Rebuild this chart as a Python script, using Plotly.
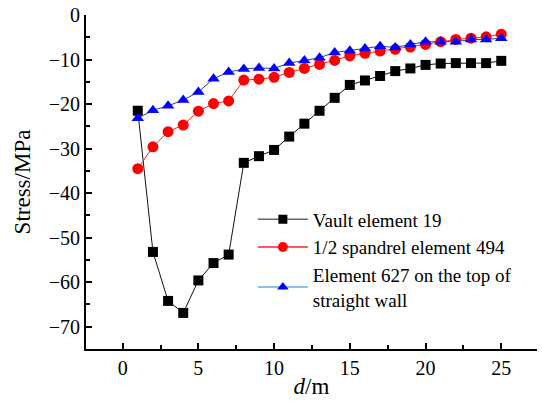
import plotly.graph_objects as go

# Distance along the arch (m)
distance = list(range(1, 26))

# Stress (MPa) at three monitored elements
vault_19 = [-21.5, -53.2, -64.2, -66.9, -59.6, -55.7, -53.8, -33.2, -31.7, -30.3,
            -27.3, -24.4, -21.5, -18.6, -15.7, -14.7, -13.7, -12.6, -12.0, -11.2,
            -10.9, -10.8, -10.8, -10.8, -10.3]
spandrel_494 = [-34.5, -29.6, -26.2, -24.7, -21.6, -19.9, -19.3, -14.6, -14.4, -14.0,
                -12.9, -12.0, -11.1, -10.2, -9.2, -8.6, -8.1, -7.7, -7.2, -6.6,
                -6.0, -5.5, -5.2, -4.9, -4.3]
wall_627 = [-23.2, -21.4, -20.4, -19.1, -17.3, -14.3, -12.8, -12.1, -11.9, -12.0,
            -10.8, -10.2, -9.6, -8.4, -8.0, -7.5, -7.0, -7.3, -6.6, -6.0,
            -6.0, -6.0, -5.5, -5.5, -5.2]

series_names = ["Vault element 19",
                "1/2 spandrel element 494",
                "Element 627 on the top of<br>straight wall"]

FONT = "Liberation Serif, Times New Roman, serif"

fig = go.Figure()

styles = [
    dict(y=vault_19, line="#111111", leg_line="#666666", marker="#000000",
         symbol="square", size=10),
    dict(y=spandrel_494, line="#ff2020", leg_line="#ff2020", marker="#ff0000",
         symbol="circle", size=11),
    dict(y=wall_627, line="#2a3f8f", leg_line="#6fa8dc", marker="#0000ff",
         symbol="triangle-up", size=11),
]

# Data curves
for name, st in zip(series_names, styles):
    fig.add_trace(go.Scatter(
        x=distance, y=st["y"], mode="lines+markers", name=name, showlegend=False,
        line=dict(color=st["line"], width=1),
        marker=dict(symbol=st["symbol"], size=st["size"], color=st["marker"],
                    line=dict(width=0)),
    ))

# Legend entries
for name, st in zip(series_names, styles):
    fig.add_trace(go.Scatter(
        x=[None], y=[None], mode="lines+markers", name=name,
        line=dict(color=st["leg_line"], width=1.5),
        marker=dict(symbol=st["symbol"], size=st["size"] - 1, color=st["marker"],
                    line=dict(width=0)),
    ))

axis_common = dict(
    showline=True, linecolor="black", linewidth=2, mirror=False,
    ticks="inside", ticklen=6, tickwidth=2, tickcolor="black",
    showgrid=False, zeroline=False,
    tickfont=dict(family=FONT, size=20, color="black"),
)

fig.update_xaxes(
    range=[-2.42, 27.36], tickvals=[0, 5, 10, 15, 20, 25],
    minor=dict(tickvals=[2.5, 7.5, 12.5, 17.5, 22.5, 27.5], ticks="inside",
               ticklen=4, tickwidth=2, tickcolor="black"),
    title=dict(text="<i>d</i>/m", font=dict(family=FONT, size=23, color="black"),
               standoff=0),
    **axis_common,
)
fig.update_yaxes(
    range=[-75, 0], tickvals=[0, -10, -20, -30, -40, -50, -60, -70],
    minor=dict(tickvals=[-5, -15, -25, -35, -45, -55, -65, -75], ticks="inside",
               ticklen=4, tickwidth=2, tickcolor="black"),
    title=dict(text="Stress/MPa", font=dict(family=FONT, size=23, color="black"),
               standoff=12),
    **axis_common,
)

fig.update_layout(
    width=542, height=402,
    margin=dict(l=86, r=5, t=15, b=53),
    plot_bgcolor="white", paper_bgcolor="white",
    font=dict(family=FONT, color="black"),
    legend=dict(
        x=0.37, y=0.445, xanchor="left", yanchor="top",
        bgcolor="rgba(0,0,0,0)", borderwidth=0,
        font=dict(family=FONT, size=19, color="black"),
        itemwidth=50, tracegroupgap=0,
    ),
)

fig.write_html("out.html")
